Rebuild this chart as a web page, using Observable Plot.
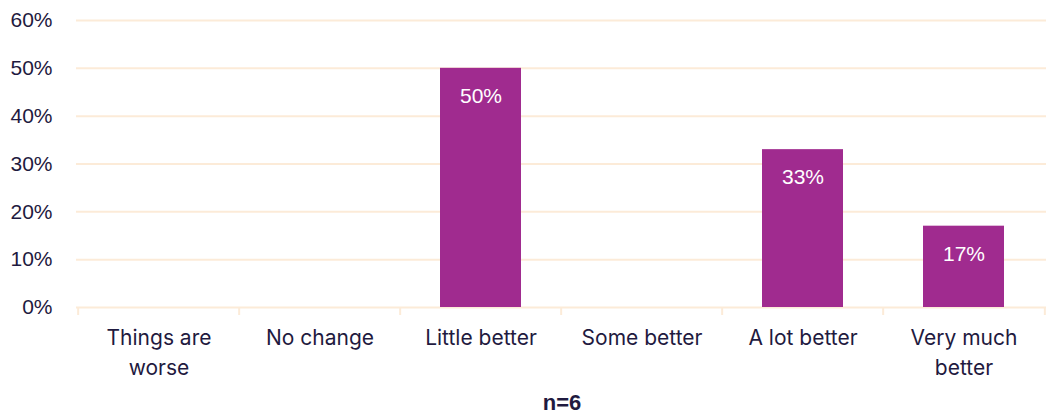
<!DOCTYPE html>
<html>
<head>
<meta charset="utf-8">
<script src="https://cdn.jsdelivr.net/npm/d3@7"></script>
<script src="https://cdn.jsdelivr.net/npm/@observablehq/plot@0.6"></script>
<style>
  html, body { margin: 0; padding: 0; background: #fff; }
  #caption { width: 1049px; text-align: center; font-family: "Liberation Sans", Arial, sans-serif; font-weight: bold; font-size: 22px; color: #1F1A40; margin-top: 5px; padding-left: 75px; box-sizing: border-box; }
</style>
</head>
<body>
<div id="chart"></div>
<div id="caption">n=6</div>
<script>
const categories = ["Things are worse", "No change", "Little better", "Some better", "A lot better", "Very much better"];
const tickLabels = ["Things are\nworse", "No change", "Little better", "Some better", "A lot better", "Very much\nbetter"];
const values = [0, 0, 0.50, 0, 0.33, 0.17];
const yTicks = [0, 0.1, 0.2, 0.3, 0.4, 0.5, 0.6];

const data = categories.map((c, i) => ({category: c, value: values[i]}));
const W = 1049, ML = 76, MR = 3;
const bw = (W - ML - MR) / categories.length;
const ink = "#1F1A40", grid = "#FCEBD8", bar = "#A02B8F";

const chart = Plot.plot({
  width: W,
  height: 385,
  marginLeft: ML,
  marginRight: MR,
  marginTop: 20,
  marginBottom: 78,
  x: {domain: categories, paddingInner: 0.5, paddingOuter: 0.25, label: null},
  y: {domain: [0, 0.6], label: null},
  style: {fontFamily: "'Liberation Sans', Arial, sans-serif", color: ink, background: "#fff"},
  marks: [
    Plot.ruleY(yTicks, {stroke: grid, strokeWidth: 2}),
    Plot.ruleX(categories, {x: d => d, y1: 0, y2: 0, insetBottom: -8, dx: -bw / 2, stroke: grid, strokeWidth: 2}),
    Plot.ruleX([categories[categories.length - 1]], {x: d => d, y1: 0, y2: 0, insetBottom: -8, dx: bw / 2, stroke: grid, strokeWidth: 2}),
    Plot.barY(data.filter(d => d.value > 0), {x: "category", y: "value", fill: bar}),
    Plot.text(data.filter(d => d.value > 0), {x: "category", y: "value", text: d => Math.round(d.value * 100) + "%", dy: 28, fill: "#fff", fontSize: 21}),
    Plot.axisY({ticks: yTicks, tickFormat: d => Math.round(d * 100) + "%", tickSize: 0, tickPadding: 24, fontSize: 21, fill: ink}),
    Plot.axisX({tickSize: 0, tickPadding: 17, fontSize: 21, fontFamily: "Inter, Lato, sans-serif", lineHeight: 1.4, fill: ink,
      tickFormat: d => tickLabels[categories.indexOf(d)]})
  ]
});
document.getElementById("chart").append(chart);
</script>
</body>
</html>
